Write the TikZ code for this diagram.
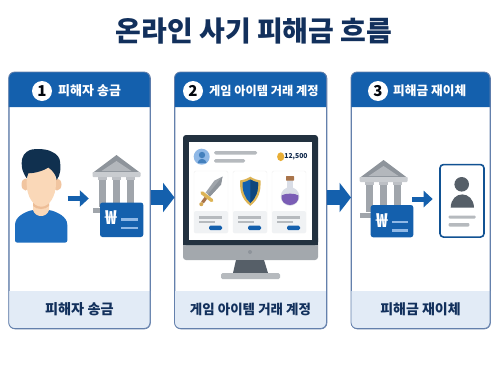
\documentclass[tikz,border=0pt]{standalone}
\usepackage{fontspec}
\setmainfont{Noto Sans CJK KR}
\usetikzlibrary{arrows.meta}
\definecolor{brandblue}{HTML}{1460AD}
\definecolor{personblue}{HTML}{1E6EBF}
\definecolor{navy}{HTML}{12305C}
\definecolor{panelline}{HTML}{6480AC}
\definecolor{footfill}{HTML}{E2EBF6}
\definecolor{greyA}{HTML}{A0A5AB}
\definecolor{greyD}{HTML}{8E949B}
\definecolor{greyB}{HTML}{C9CCD0}
\definecolor{greyC}{HTML}{B6BABE}
\definecolor{slate}{HTML}{565F68}
\definecolor{monitor}{HTML}{22313F}
\definecolor{chin}{HTML}{A3A8AD}
\definecolor{cardgrey}{HTML}{F0F2F4}
\definecolor{skin}{HTML}{FAD8B8}
\definecolor{skinshade}{HTML}{EDBD96}
\definecolor{hair}{HTML}{10304F}
\definecolor{gold}{HTML}{DDB455}
\definecolor{coin}{HTML}{E8AE35}
\definecolor{lightbar}{HTML}{8FB8E6}
\definecolor{glass}{HTML}{D9DDE6}
\definecolor{potion}{HTML}{7A5DB5}
\definecolor{cork}{HTML}{A9744A}
\tikzset{
  x=1pt,y=-1pt,
  titletext/.style={font=\bfseries\fontsize{28}{32}\selectfont,text=navy},
  headtext/.style={font=\bfseries\fontsize{#1}{14}\selectfont,text=white,anchor=west,inner sep=0pt},
  foottext/.style={font=\bfseries\fontsize{#1}{16}\selectfont,text=navy},
  badge/.style={circle,fill=white,minimum size=20pt,inner sep=0pt,font=\bfseries\fontsize{15}{16}\selectfont,text=black!85!navy},
  panel/.style={rectangle,rounded corners=6pt,draw=panelline,line width=.8pt,inner sep=0pt},
  flow/.style={line width=15pt,draw=brandblue,-{Triangle[length=11.5pt,width=29pt]}},
  smallflow/.style={line width=5pt,draw=brandblue,-{Triangle[length=9pt,width=16pt]}},
  iconbox/.style={rectangle,inner sep=0pt,draw=none}
}
% One numbered panel: header strip, body and footer caption
\newcommand{\stage}[7]{% name, x1, x2, badge x, number, footer size, footer text
  \node[panel,fill=white,minimum width={(#3-#2)*1pt},minimum height=256.5pt,anchor=north west] (#1) at (#2,72) {};
  \fill[brandblue,sharp corners] (#2,107) [rounded corners=6pt] -- (#2,72) -- (#3,72) [sharp corners] -- (#3,107) -- cycle;
  \fill[footfill,sharp corners] (#2,291) -- (#3,291) [rounded corners=6pt] -- (#3,328.5) -- (#2,328.5) [sharp corners] -- cycle;
  \draw[panelline,line width=.8pt,rounded corners=6pt] (#2,72) rectangle (#3,328.5);
  \node[badge] (#1badge) at (#4,91) {#5};
  \node[foottext=#6] (#1foot) at ({(#2+#3)/2},309) {#7};
}
% Bank building, measured from the roof apex
\tikzset{bankpic/.pic={
  \fill[greyD] (-24,18) -- (0,0) -- (24,18) -- cycle;
  \fill[greyA!80!white] (-15,16) -- (0,6) -- (15,16) -- cycle;
  \fill[greyB,rounded corners=1pt] (-24,17) rectangle (24,22);
  \foreach \c in {-14,0,14} {
    \fill[greyA] (\c-3.5,22) rectangle (\c+3.5,52);
    \fill[greyB!70!greyA] (\c-4.5,22) rectangle (\c+4.5,25);
  }
  \fill[greyA] (-24,53) rectangle (24,58);
}}
% Transfer slip with a won sign
\newcommand{\wonslip}[4]{% left, top, right, bottom
  \fill[brandblue,rounded corners=2.5pt] (#1,#2) rectangle (#3,#4);
  \node[text=white,font=\bfseries\fontsize{19}{20}\selectfont,inner sep=0pt] at ({#1+11.5},{#2+15.5}) {₩};
  \fill[lightbar] ({#1+21},{#2+15.5}) rectangle ({#3-5},{#2+18});
  \fill[lightbar] ({#1+21},{#2+24}) rectangle ({#3-5},{#2+26.5});
}
\begin{document}
\begin{tikzpicture}
\useasboundingbox (0,0) rectangle (500,375);
\fill[white] (0,0) rectangle (500,375);

\node[titletext] (title) at (254,31) {온라인 사기 피해금 흐름};

\stage{one}{8.7}{150}{42}{1}{14.2}{피해자 송금}
\node[headtext=13] (onehead) at (58,91) {피해자 송금};
\stage{two}{174.5}{326.5}{193}{2}{13.5}{게임 아이템 거래 계정}
\node[headtext=12.2] (twohead) at (209,91) {게임 아이템 거래 계정};
\stage{three}{351}{490}{378}{3}{14}{피해금 재이체}
\node[headtext=12.7] (threehead) at (393,91) {피해금 재이체};

% Arrows from panel to panel
\draw[flow] (one.east |- 0,197.5) -- (two.west |- 0,197.5);
\draw[flow] (two.east |- 0,197.5) -- (three.west |- 0,197.5);

% Sender
\fill[personblue,rounded corners=2pt] (15,242.5) -- (15,227) .. controls (15,216) and (26,212) .. (32,210) -- (50,210) .. controls (56,212) and (67.3,216) .. (67.3,227) -- (67.3,242.5) -- cycle;
\fill[skin] (33,198) -- (49,198) -- (49,210) .. controls (47,218) and (35,218) .. (33,210) -- cycle;
\fill[skinshade] (33,203) -- (49,203) -- (49,206) .. controls (45,210) and (37,210) .. (33,206) -- cycle;
\fill[skinshade!70!skin] (25.5,184.5) ellipse (4 and 6);
\fill[skinshade!70!skin] (57,184.5) ellipse (4.5 and 6);
\fill[skin] (41.3,183) ellipse (14.7 and 23.7);
\fill[hair] (26.7,178.3) .. controls (22.3,171.7) and (21.7,168) .. (21.7,163.3) .. controls (21.7,156) and (25,152) .. (30,150) .. controls (35,148.5) and (46,148.5) .. (51.7,151.7) .. controls (57,154) and (60,158) .. (60,161.7) .. controls (61,167) and (60.7,175) .. (56.7,180) .. controls (56,176) and (54.5,172) .. (48.3,167.5) .. controls (45,170) and (36,173.3) .. (28.3,173.3) .. controls (27.5,175) and (27,176.5) .. (26.7,178.3) -- cycle;
\node[iconbox,minimum width=52.3pt,minimum height=93pt] (sender) at (41.15,196) {};

% Bank and transfer slip, first panel
\pic at (116.5,155) {bankpic};
\wonslip{100}{202.5}{143.3}{237}
\node[iconbox,minimum width=54.3pt,minimum height=82pt] (bankone) at (116.15,196) {};
\draw[smallflow] (sender.east |- 0,198.5) -- (bankone.west |- 0,198.5);

% Monitor
\fill[chin,rounded corners=3pt] (183,235) rectangle (318,260);
\fill[monitor,rounded corners=3pt] (183,245) -- (183,135) -- (318,135) -- (318,245) -- cycle;
\fill[monitor] (183,240) rectangle (318,245);
\fill[white] (189,142) rectangle (312,240);
\fill[greyD] (250,252) circle (2);
\fill[slate] (236,260) -- (264,260) -- (268,273) -- (233,273) -- cycle;
\fill[greyC,rounded corners=1.5pt] (221,273) rectangle (280,279);
% Account strip
\fill[lightbar] (201.7,156.7) circle (8);
\fill[brandblue!80!white] (202,155) circle (3.2);
\fill[brandblue!80!white] (197.5,163) .. controls (198,157.5) and (206,157.5) .. (206.5,163) -- cycle;
\fill[greyC,rounded corners=1.5pt] (214,151) rectangle (257,154.5);
\fill[greyC,rounded corners=1.5pt] (214,159) rectangle (245,162.5);
\fill[coin] (280.7,156.7) ellipse (3.6 and 4.4);
\node[inner sep=0pt,text=navy!80!black,font=\bfseries\fontsize{6.8}{8}\selectfont] (balance) at (296,156.7) {12,500};
% Item cards
\foreach \l in {194,233,272} {
  \fill[white,draw=black!6,line width=.4pt,rounded corners=2pt] (\l,171) rectangle (\l+34,233);
  \fill[cardgrey,rounded corners=2pt] (\l,211) rectangle (\l+34,233);
  \fill[greyC] (\l+5,216) rectangle (\l+28,218.5);
  \fill[greyC] (\l+5,221) rectangle (\l+21,223);
  \fill[brandblue,rounded corners=1.5pt] (\l+15,225.7) rectangle (\l+28,230);
}
% Sword
\fill[greyA] (205.7,192.5) -- (214.5,180.5) -- (222.5,176.5) -- (221,184.5) -- (210,196.5) -- cycle;
\fill[greyD] (207.8,194.5) -- (222.5,176.5) -- (221,184.5) -- (210,196.5) -- cycle;
\draw[cork,line width=3.2pt] (206.5,197) -- (202.5,202.5);
\draw[gold,line width=3.4pt,line cap=round] (211.8,200.5) -- (202,192.8);
\fill[gold!80!cork] (201.3,204.2) circle (2);
% Shield
\fill[gold] (250.3,176.7) .. controls (254,179) and (257,180) .. (260.5,180.5) .. controls (261,191) and (259,199) .. (250.3,205.8) .. controls (241.5,199) and (239.6,191) .. (240.2,180.5) .. controls (243.5,180) and (246.5,179) .. (250.3,176.7) -- cycle;
\fill[brandblue] (250.3,179.5) .. controls (253,181) and (255.5,182) .. (258,182.5) .. controls (258.5,191) and (256,198) .. (250.3,203) .. controls (244.6,198) and (242.2,191) .. (242.6,182.5) .. controls (245,182) and (247.5,181) .. (250.3,179.5) -- cycle;
\fill[brandblue!72!black] (250.3,179.5) .. controls (253,181) and (255.5,182) .. (258,182.5) .. controls (258.5,191) and (256,198) .. (250.3,203) -- cycle;
% Potion
\fill[glass] (286.7,180) rectangle (293,188);
\fill[glass] (290,196.5) circle (9.3);
\fill[potion] (281.5,195.5) .. controls (285,193) and (295,193) .. (298.5,195.5) .. controls (299.5,202) and (294,205) .. (290,205) .. controls (286,205) and (280.5,202) .. (281.5,195.5) -- cycle;
\fill[cork,rounded corners=.6pt] (286,176) rectangle (294,180.7);

% Bank and transfer slip, third panel
\pic at (383.5,160) {bankpic};
\wonslip{370.7}{205}{413.3}{237.3}
\node[iconbox,minimum width=53pt,minimum height=78pt] (banktwo) at (385.7,198) {};
% Recipient card
\node[rectangle,rounded corners=3.5pt,draw=brandblue!85!black,line width=1.6pt,fill=white,minimum width=44pt,minimum height=72.5pt,inner sep=0pt] (recipient) at (462,200.8) {};
\fill[slate] (461.7,184.3) circle (7.3);
\fill[slate] (450.7,207.7) .. controls (451,190) and (473.5,190) .. (474,207.7) -- cycle;
\fill[greyC,rounded corners=1pt] (448.7,215.5) rectangle (475.7,218.5);
\fill[greyC,rounded corners=1pt] (448.7,223) rectangle (469.3,226.5);
\draw[smallflow,shorten >=6.5pt] (banktwo.east |- 0,199) -- (recipient.west |- 0,199);
\end{tikzpicture}
\end{document}
